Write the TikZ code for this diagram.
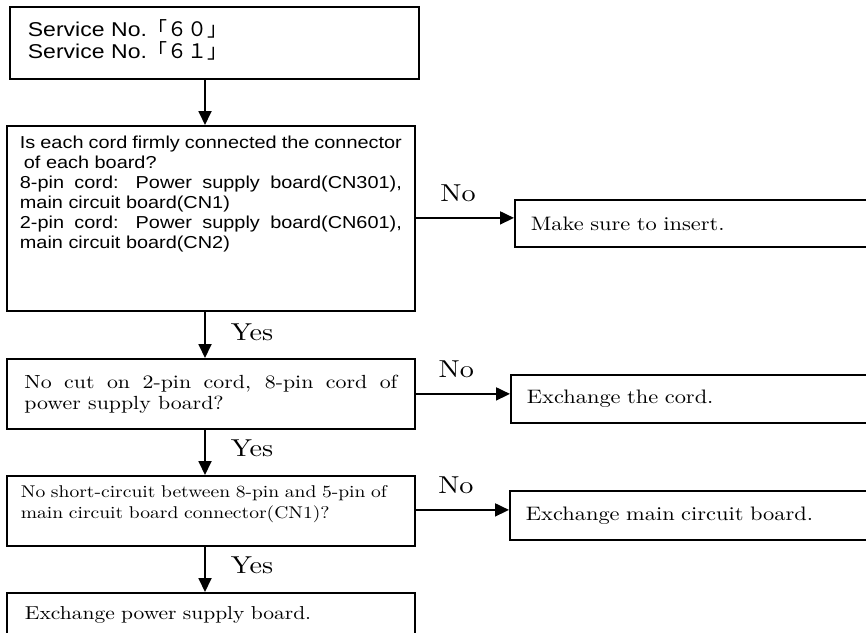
\documentclass[tikz,border=0pt]{standalone}
\usepackage{fontspec}
\newfontfamily\sns[FakeStretch=1.15]{Liberation Sans}
\newfontfamily\srf[FakeStretch=1.15]{lmroman10-regular.otf}
\newfontfamily\cjk{Noto Sans CJK JP}
\usetikzlibrary{arrows.meta,positioning}

\begin{document}
\begin{tikzpicture}
  [x=1pt,y=-1pt,
   box/.style={draw,line width=1.8pt,anchor=north west,inner ysep=0pt,align=left},
   fixbox/.style={box,font=\srf\fontsize{19.5}{21}\selectfont,text width=370pt,inner xsep=16pt},
   lbl/.style={inner sep=0pt,font=\srf\fontsize{24.5}{26}\selectfont},
   arr/.style={line width=1.8pt,-{Triangle[length=14pt,width=13pt]}}]
  \useasboundingbox (0,0) rectangle (866,632);
  \clip (0,0) rectangle (866,632);
  % left column
  \node[box,font=\sns\fontsize{20}{22}\selectfont,text width=373pt,inner xsep=18pt,minimum height=72pt] (svc) at (9,6)
    {Service No.{\cjk 「６０」}\\Service No.{\cjk 「６１」}\rule[-8pt]{0pt}{0pt}};
  \node[box,font=\sns\fontsize{17.3}{20}\selectfont,align=justify,text width=382pt,inner xsep=13pt,minimum height=185pt] (chk) at (6,125)
    {Is each cord firmly connected the connector\\
     \hspace*{4pt}of each board?\\
     8-pin cord: Power supply board(CN301),\linebreak
     main circuit board(CN1)\\
     2-pin cord: Power supply board(CN601),\linebreak
     main circuit board(CN2)\rule[-52pt]{0pt}{0pt}};
  \node[box,font=\srf\fontsize{19}{21}\selectfont,align=justify,text width=373pt,inner xsep=17.5pt,minimum height=70pt] (cut) at (6,358)
    {No cut on 2-pin cord, 8-pin cord of\linebreak power supply board?};
  \node[box,font=\srf\fontsize{17}{21}\selectfont,text width=380pt,inner xsep=14pt,minimum height=70pt] (shrt) at (6,475)
    {No short-circuit between 8-pin and 5-pin of\\main circuit board connector(CN1)?\rule[-18pt]{0pt}{0pt}};
  \node[box,font=\srf\fontsize{18.7}{21}\selectfont,text width=372pt,inner xsep=18pt,minimum height=44pt] (psb) at (6,592)
    {Exchange power supply board.};
  % right column
  \node[fixbox,minimum height=47pt] (ins) at (514,199) {Make sure to insert.};
  \node[fixbox,minimum height=48pt] (cord) at (510,374) {Exchange the cord.};
  \node[fixbox,minimum height=49pt] (mcb) at (509,490) {Exchange main circuit board.};
  % arrows
  \coordinate (spine) at (205,0);
  \draw[arr] (svc.south -| spine) -- (chk.north -| spine);
  \draw[arr] (chk.south -| spine) -- node[lbl,pos=.45,right=25pt] (yes1) {Yes} (cut.north -| spine);
  \draw[arr] (cut.south -| spine) -- node[lbl,pos=.4,right=25pt] (yes2) {Yes} (shrt.north -| spine);
  \draw[arr] (shrt.south -| spine) -- node[lbl,pos=.4,right=25pt] (yes3) {Yes} (psb.north -| spine);
  \coordinate (t1) at ([yshift=5.5pt]ins.west);
  \coordinate (t2) at ([yshift=5pt]cord.west);
  \coordinate (t3) at ([yshift=5.5pt]mcb.west);
  \draw[arr] (t1 -| chk.east) -- node[lbl,pos=.43,above=15pt] (no1) {No} (t1);
  \draw[arr] (t2 -| cut.east) -- node[lbl,pos=.43,above=15pt] (no2) {No} (t2);
  \draw[arr] (t3 -| shrt.east) -- node[lbl,pos=.43,above=15pt] (no3) {No} (t3);
\end{tikzpicture}
\end{document}
